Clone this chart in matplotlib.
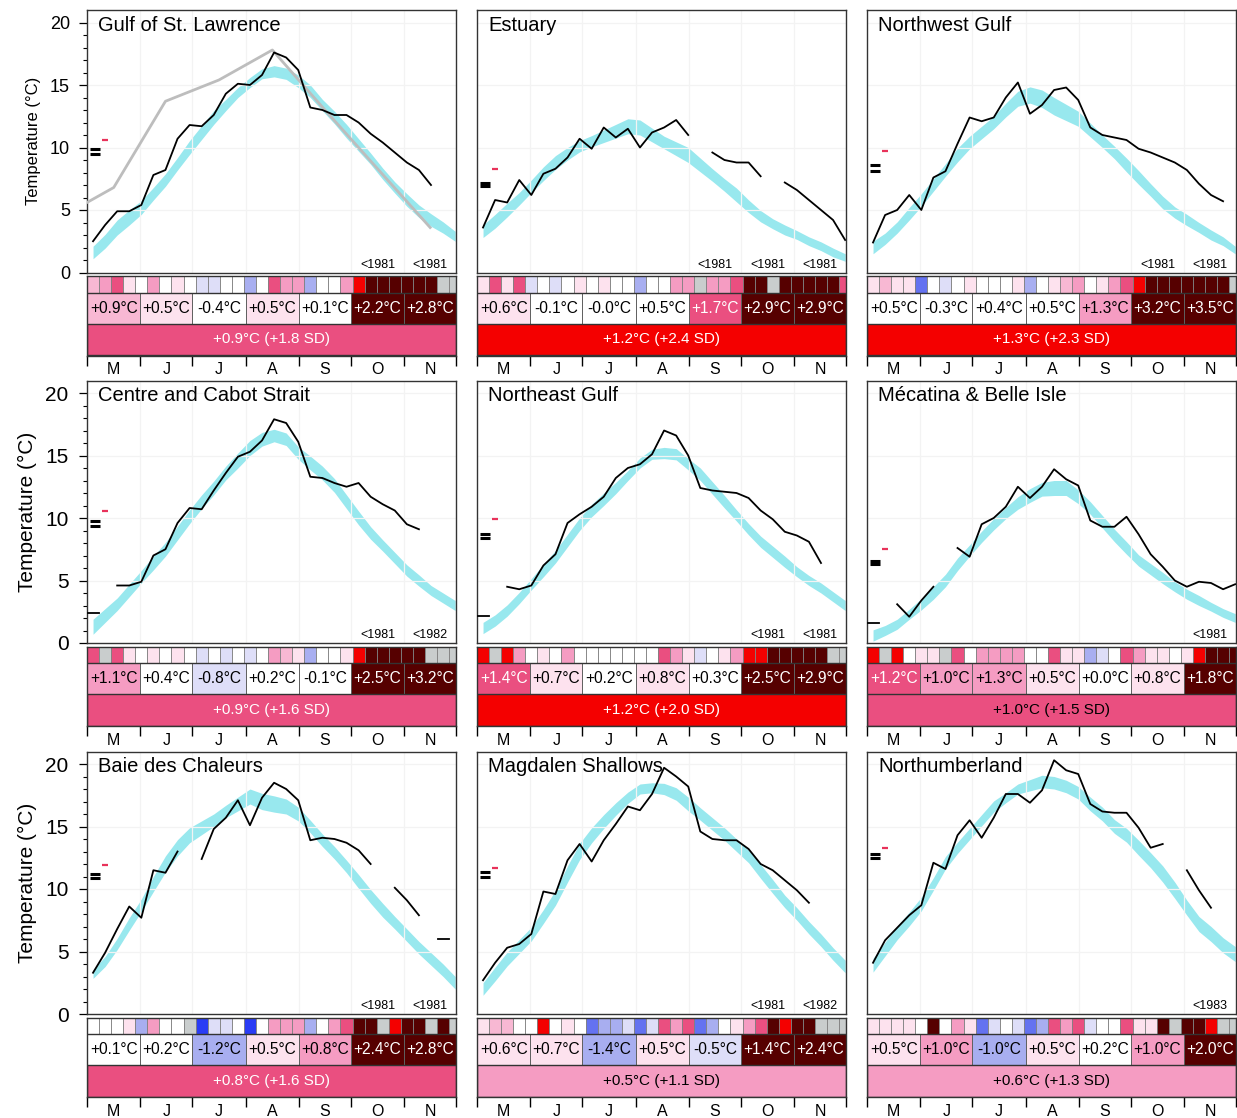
import numpy as np
import matplotlib
matplotlib.use("Agg")
import matplotlib.pyplot as plt
from matplotlib.patches import Rectangle

nan = np.nan

# ---- data (weekly values, May 1 -> Dec 1) ----
MONTHS = ["M", "J", "J", "A", "S", "O", "N"]
MONTH_EDGES = [0, 31, 61, 92, 123, 153, 184, 214]  # day of season

gulf_temp = [2.5, 3.8, 4.9, 4.9, 5.4, 7.8, 8.2, 10.7, 11.8, 11.7, 12.6, 14.3, 15.1, 15.0, 15.8, 17.6,
             17.2, 16.2, 13.2, 13.0, 12.6, 12.6, 12.0, 11.1, 10.4, 9.6, 8.8, 8.2, 7.0, nan, nan]
gulf_clim = [1.6, 2.5, 3.6, 4.4, 5.2, 6.3, 7.4, 8.7, 10.0, 11.2, 12.4, 13.4, 14.4, 15.2, 15.9, 16.1,
             15.9, 15.3, 14.5, 13.4, 12.4, 11.3, 10.2, 9.1, 7.9, 6.8, 5.8, 4.9, 4.2, 3.6, 2.9]
gulf_half = [0.5, 0.55, 0.6, 0.6, 0.55, 0.5, 0.5, 0.5, 0.55, 0.55, 0.55, 0.45, 0.4, 0.4, 0.4, 0.45,
             0.45, 0.5, 0.5, 0.45, 0.5, 0.55, 0.5, 0.45, 0.45, 0.45, 0.5, 0.5, 0.5, 0.45, 0.4]
gulf_tiles = [2, 3, 4, 1, 0, 3, 0, 1, 0, -1, -1, 0, 0, -2, 0, 4, 3, 3, -2, 0, 0, 3, 5, 6, 6, 6, 6, 6, 6, None, None]
gulf_month = [0.9, 0.5, -0.4, 0.5, 0.1, 2.2, 2.8]
gulf_month_lvl = [2, 1, 0, 1, 0, 6, 6]
gulf_season = (0.9, 1.8)
gulf_marks = (9.9, 9.5, 10.6)
gulf_records = [None, None, None, None, None, "<1981", "<1981"]
# monthly reference curve drawn in grey on the first panel
gulf_ref_day = [-15.5, 15.5, 45.5, 76.5, 107.5, 138, 168.5, 199]
gulf_ref_temp = [4.4, 6.8, 13.7, 15.4, 17.8, 13.0, 8.3, 3.6]

est_temp = [3.6, 5.8, 5.6, 7.4, 6.2, 7.9, 8.3, 9.2, 10.7, 9.9, 11.6, 10.8, 11.5, 10.0, 11.2, 11.6,
            12.2, 11.0, nan, 9.6, 9.0, 8.8, 8.8, 7.7, nan, 7.2, 6.6, 5.8, 5.0, 4.2, 2.6]
est_clim = [3.3, 4.1, 5.0, 5.9, 6.9, 7.9, 8.8, 9.5, 10.1, 10.5, 10.9, 11.3, 11.7, 11.6, 11.0, 10.4,
            9.9, 9.4, 8.6, 7.8, 7.0, 6.2, 5.3, 4.5, 3.9, 3.4, 3.0, 2.5, 2.1, 1.6, 1.2]
est_half = [0.5, 0.55, 0.55, 0.5, 0.5, 0.55, 0.55, 0.5, 0.45, 0.45, 0.5, 0.55, 0.6, 0.6, 0.55, 0.5,
            0.55, 0.6, 0.55, 0.5, 0.5, 0.55, 0.5, 0.45, 0.4, 0.4, 0.35, 0.35, 0.35, 0.35, 0.3]
est_tiles = [1, 4, 1, 4, -1, 0, -1, 0, 1, 0, 1, 0, 0, -2, 0, 0, 3, 3, None, 3, 3, 4, 6, 6, None, 6, 6, 6, 6, 6, 4]
est_month = [0.6, -0.1, -0.0, 0.5, 1.7, 2.9, 2.9]
est_month_lvl = [1, 0, 0, 0, 4, 6, 6]
est_season = (1.2, 2.4)
est_marks = (7.2, 6.9, 8.3)
est_records = [None, None, None, None, "<1981", "<1981", "<1981"]

nw_temp = [2.4, 4.6, 5.0, 6.2, 5.0, 7.6, 8.1, 10.3, 12.4, 12.1, 12.4, 14.0, 15.2, 12.7, 13.4, 14.6,
           14.8, 13.8, 11.6, 11.0, 10.8, 10.6, 9.9, 9.6, 9.2, 8.8, 8.2, 7.1, 6.2, 5.7, nan]
nw_clim = [2.0, 2.7, 3.6, 4.7, 5.8, 7.0, 8.2, 9.4, 10.4, 11.2, 12.0, 13.0, 13.9, 14.2, 13.9, 13.3,
           12.8, 12.3, 11.4, 10.5, 9.6, 8.6, 7.6, 6.6, 5.6, 4.8, 4.2, 3.6, 3.0, 2.5, 1.8]
nw_half = [0.5, 0.45, 0.45, 0.5, 0.5, 0.5, 0.5, 0.55, 0.5, 0.5, 0.5, 0.55, 0.6, 0.65, 0.7, 0.7,
           0.65, 0.6, 0.55, 0.5, 0.5, 0.55, 0.55, 0.5, 0.5, 0.45, 0.45, 0.4, 0.4, 0.35, 0.3]
nw_tiles = [1, 2, 1, 1, -3, 0, -1, 0, 1, 0, 0, 0, 1, -2, 0, 1, 2, 3, 0, 1, 3, 4, 5, 6, 6, 6, 6, 6, 6, 6, None]
nw_month = [0.5, -0.3, 0.4, 0.5, 1.3, 3.2, 3.5]
nw_month_lvl = [0, 0, 0, 0, 3, 6, 6]
nw_season = (1.3, 2.3)
nw_marks = (8.6, 8.1, 9.7)
nw_records = [None, None, None, None, None, "<1981", "<1981"]

cen_temp = [2.4, nan, 4.6, 4.6, 4.9, 7.0, 7.5, 9.6, 10.8, 10.7, 12.2, 13.6, 14.9, 15.3, 16.2, 17.9,
            17.6, 16.1, 13.3, 13.2, 12.8, 12.5, 12.8, 11.7, 11.1, 10.6, 9.5, 9.1, nan, nan, nan]
cen_clim = [1.3, 2.2, 3.1, 4.2, 5.3, 6.4, 7.5, 8.8, 10.1, 11.3, 12.4, 13.6, 14.6, 15.6, 16.3, 16.6,
            16.3, 15.2, 14.4, 13.6, 12.6, 11.3, 10.0, 8.8, 7.8, 6.8, 5.8, 5.0, 4.2, 3.6, 3.0]
cen_half = [0.6, 0.55, 0.5, 0.5, 0.5, 0.55, 0.55, 0.55, 0.55, 0.55, 0.55, 0.55, 0.6, 0.6, 0.55, 0.5,
            0.5, 0.5, 0.55, 0.55, 0.55, 0.55, 0.55, 0.5, 0.45, 0.45, 0.45, 0.45, 0.4, 0.4, 0.4]
cen_tiles = [4, None, 4, 1, 0, 1, 0, 1, 0, -1, 0, -1, 0, -1, 0, 3, 2, 1, -2, 0, 0, 1, 5, 6, 6, 6, 6, 6, None, None, None]
cen_month = [1.1, 0.4, -0.8, 0.2, -0.1, 2.5, 3.2]
cen_month_lvl = [3, 0, -1, 0, 0, 6, 6]
cen_season = (0.9, 1.6)
cen_marks = (9.8, 9.4, 10.6)
cen_records = [None, None, None, None, None, "<1981", "<1982"]

ne_temp = [2.2, nan, 4.5, 4.3, 4.6, 6.2, 7.1, 9.6, 10.3, 10.9, 11.7, 13.2, 14.0, 14.3, 15.1, 17.0,
           16.6, 15.0, 12.4, 12.2, 12.1, 12.0, 11.6, 10.6, 9.9, 8.9, 8.6, 8.1, 6.4, nan, nan]
ne_clim = [1.2, 1.8, 2.6, 3.6, 4.7, 5.8, 6.9, 8.2, 9.5, 10.6, 11.5, 12.4, 13.4, 14.4, 15.1, 15.2,
           15.1, 14.3, 13.5, 12.4, 11.3, 10.2, 9.1, 8.1, 7.3, 6.5, 5.7, 5.0, 4.4, 3.7, 3.0]
ne_half = [0.45, 0.45, 0.45, 0.45, 0.45, 0.5, 0.5, 0.5, 0.5, 0.5, 0.5, 0.45, 0.4, 0.4, 0.4, 0.45,
           0.45, 0.45, 0.5, 0.5, 0.5, 0.45, 0.45, 0.45, 0.45, 0.45, 0.4, 0.4, 0.4, 0.4, 0.4]
ne_tiles = [5, None, 5, 3, 0, 1, 0, 3, 0, 0, 0, 0, 0, 0, 0, 4, 3, 1, -1, 0, 1, 3, 5, 5, 6, 6, 6, 6, 6, None, None]
ne_month = [1.4, 0.7, 0.2, 0.8, 0.3, 2.5, 2.9]
ne_month_lvl = [4, 1, 0, 1, 0, 6, 6]
ne_season = (1.2, 2.0)
ne_marks = (8.7, 8.4, 9.9)
ne_records = [None, None, None, None, None, "<1981", "<1981"]

mec_temp = [1.6, nan, 3.1, 2.1, 3.4, 4.5, nan, 7.6, 6.9, 9.5, 10.0, 10.9, 12.5, 11.6, 12.5, 13.9,
            13.1, 12.6, 9.8, 9.3, 9.3, 10.1, 8.7, 7.1, 6.1, 5.0, 4.5, 4.9, 4.8, 4.3, 4.7]
mec_clim = [0.6, 1.0, 1.5, 2.3, 3.1, 4.0, 5.0, 6.3, 7.4, 8.5, 9.5, 10.4, 11.2, 11.8, 12.3, 12.4,
            12.4, 11.7, 10.8, 9.7, 8.6, 7.6, 6.6, 5.9, 5.2, 4.5, 3.9, 3.4, 2.9, 2.4, 2.0]
mec_half = [0.45, 0.4, 0.4, 0.4, 0.45, 0.5, 0.5, 0.5, 0.45, 0.45, 0.45, 0.45, 0.5, 0.55, 0.55, 0.6,
            0.6, 0.55, 0.5, 0.5, 0.5, 0.5, 0.45, 0.45, 0.45, 0.4, 0.4, 0.4, 0.35, 0.35, 0.35]
mec_tiles = [5, None, 5, 0, 1, 1, None, 4, 0, 3, 3, 3, 3, 0, 0, 4, 1, 1, -2, -1, 0, 4, 3, 1, 1, 0, 1, 5, 6, 6, 6]
mec_month = [1.2, 1.0, 1.3, 0.5, 0.0, 0.8, 1.8]
mec_month_lvl = [4, 3, 3, 1, 0, 1, 6]
mec_season = (1.0, 1.5)
mec_marks = (6.6, 6.3, 7.5)
mec_records = [None, None, None, None, None, None, "<1981"]

baie_temp = [3.3, 4.9, 6.8, 8.6, 7.7, 11.5, 11.3, 13.0, nan, 12.4, 14.8, 15.7, 17.1, 15.1, 17.3, 18.5,
             18.0, 17.1, 13.9, 14.1, 14.0, 13.7, 13.1, 12.0, nan, 10.1, 9.1, 7.9, nan, 6.0, nan]
baie_clim = [3.2, 4.2, 5.6, 7.2, 8.7, 10.4, 12.0, 13.3, 14.3, 14.9, 15.5, 16.2, 16.8, 17.4, 17.0, 16.8,
             16.6, 16.0, 15.0, 13.9, 12.9, 11.8, 10.6, 9.4, 8.3, 7.3, 6.3, 5.3, 4.4, 3.5, 2.5]
baie_half = [0.35, 0.4, 0.45, 0.5, 0.5, 0.6, 0.65, 0.65, 0.6, 0.55, 0.5, 0.5, 0.55, 0.6, 0.65, 0.65,
             0.6, 0.55, 0.5, 0.5, 0.5, 0.5, 0.55, 0.55, 0.55, 0.5, 0.5, 0.5, 0.5, 0.5, 0.5]
baie_tiles = [0, 0, 0, 1, -2, 3, 0, 0, None, -4, -1, -1, 0, -4, 0, 3, 3, 3, -2, 0, 3, 4, 6, 6, None, 5, 6, 6, None, 6, None]
baie_month = [0.1, 0.2, -1.2, 0.5, 0.8, 2.4, 2.8]
baie_month_lvl = [0, 0, -2, 1, 3, 6, 6]
baie_season = (0.8, 1.6)
baie_marks = (11.2, 10.9, 11.9)
baie_records = [None, None, None, None, None, "<1981", "<1981"]

mag_temp = [2.7, 4.1, 5.3, 5.6, 6.4, 9.8, 9.6, 12.3, 13.6, 12.2, 13.9, 15.2, 16.6, 16.3, 17.6, 19.7,
            19.0, 18.2, 14.6, 14.0, 13.9, 13.9, 13.2, 12.0, 11.5, 10.7, 9.9, 8.9, nan, nan, nan]
mag_clim = [2.0, 3.2, 4.4, 5.4, 6.4, 7.8, 9.3, 11.2, 13.0, 14.3, 15.4, 16.4, 17.3, 18.0, 18.1, 18.0,
            17.6, 16.8, 16.0, 15.2, 14.4, 13.5, 12.6, 11.4, 10.2, 9.0, 8.0, 6.9, 5.9, 4.8, 3.8]
mag_half = [0.5, 0.55, 0.55, 0.55, 0.55, 0.55, 0.6, 0.65, 0.65, 0.6, 0.55, 0.5, 0.45, 0.4, 0.4, 0.45,
            0.5, 0.55, 0.5, 0.5, 0.5, 0.5, 0.5, 0.55, 0.55, 0.5, 0.5, 0.5, 0.5, 0.5, 0.5]
mag_tiles = [1, 2, 2, 0, 0, 5, 0, 1, 0, -3, -2, -2, -1, -3, -1, 4, 3, 4, -3, -2, 0, 1, 3, 4, 6, 5, 6, 6, None, None, None]
mag_month = [0.6, 0.7, -1.4, 0.5, -0.5, 1.4, 2.4]
mag_month_lvl = [1, 1, -2, 1, -1, 6, 6]
mag_season = (0.5, 1.1)
mag_marks = (11.4, 11.0, 11.7)
mag_records = [None, None, None, None, None, "<1981", "<1982"]

nhb_temp = [4.1, 5.9, 6.9, 7.9, 8.7, 12.1, 11.6, 14.3, 15.5, 14.1, 15.7, 17.6, 17.6, 16.9, 17.9, 20.3,
            19.5, 19.2, 16.8, 16.2, 16.1, 16.1, 14.9, 13.3, 13.6, nan, 11.5, 9.9, 8.5, nan, nan]
nhb_clim = [3.9, 5.2, 6.5, 7.6, 8.8, 10.4, 12.1, 13.3, 14.4, 15.5, 16.6, 17.3, 18.0, 18.3, 18.6, 18.5,
            18.2, 17.7, 16.8, 16.0, 15.0, 14.3, 13.3, 12.3, 11.2, 9.9, 8.5, 7.2, 6.4, 5.5, 4.8]
nhb_half = [0.55, 0.55, 0.55, 0.55, 0.55, 0.5, 0.5, 0.45, 0.45, 0.45, 0.45, 0.4, 0.4, 0.45, 0.5, 0.5,
            0.5, 0.5, 0.55, 0.55, 0.55, 0.55, 0.6, 0.6, 0.65, 0.65, 0.6, 0.6, 0.6, 0.6, 0.6]
nhb_tiles = [1, 1, 1, 1, 0, 6, 0, 3, 1, -3, -1, 0, -1, -3, -2, 4, 3, 4, -1, 0, 0, 4, 1, 1, 6, None, 6, 6, 5, None, None]
nhb_month = [0.5, 1.0, -1.0, 0.5, 0.2, 1.0, 2.0]
nhb_month_lvl = [1, 3, -2, 1, 0, 3, 6]
nhb_season = (0.6, 1.3)
nhb_marks = (12.8, 12.5, 13.3)
nhb_records = [None, None, None, None, None, None, "<1983"]

# ---- styling ----
PALETTE = {-4: "#2a3cf5", -3: "#6472f0", -2: "#a8aef0", -1: "#dedef8", 0: "#ffffff",
           1: "#fde2ee", 2: "#f8b8d3", 3: "#f59cc2", 4: "#ea4f80", 5: "#f40000", 6: "#560000"}
MISSING = "#c9cdcd"
BAND = "#98e8ee"
GRID = "#f3f3f3"

W, H = 1237, 1118
COL_LEFT = [87, 477, 867]
AX_W = 369
ROW_TOP = [10, 380.5, 751.5]
MAIN_H = 262.5
GAP = 3.5
TILE_H, MONTH_H, SEASON_H = 16.5, 31, 32
STRIP_H = TILE_H + MONTH_H + SEASON_H

plt.rcParams["font.family"] = ["Liberation Sans", "DejaVu Sans"]


def sd_level(sd):
    idx = int(np.digitize(sd, [-2.0, -1.5, -1.0, -0.5, 0.5, 1.0, 1.5, 2.0, 3.0]))
    return [-4, -3, -2, -1, 0, 1, 3, 4, 5, 6][idx]


def draw_panel(fig, row, col, name, temp, clim, half, tiles, month, month_lvl,
               season, marks, records):
    left = COL_LEFT[col] / W
    top = ROW_TOP[row]
    ax = fig.add_axes([left, 1 - (top + MAIN_H) / H, AX_W / W, MAIN_H / H])
    days = np.arange(31) * 7 + 3.5
    temp = np.array(temp, dtype=float)
    mid = np.array(clim)
    hw = np.array(half)

    ax.fill_between(days, mid - hw, mid + hw, color=BAND, lw=0, zorder=1)
    for d in MONTH_EDGES[1:-1]:
        ax.axvline(d, color=GRID, lw=0.9, zorder=2)
    for v in (5, 10, 15, 20):
        ax.axhline(v, color=GRID, lw=0.9, zorder=2)

    ax.plot(days, temp, color="black", lw=1.3, zorder=4)
    # weeks with no neighbours show up as short dashes
    for k in range(31):
        if np.isnan(temp[k]):
            continue
        prev_ok = k > 0 and not np.isnan(temp[k - 1])
        next_ok = k < 30 and not np.isnan(temp[k + 1])
        if not prev_ok and not next_ok:
            ax.plot([7 * k + 0.3, 7 * k + 6.7], [temp[k], temp[k]], color="black", lw=1.3, zorder=4)

    if name == "Gulf of St. Lawrence":
        ax.plot(gulf_ref_day, gulf_ref_temp, color="#bdbdbd", lw=2, zorder=3)

    b1, b2, red = marks
    ax.plot([1.7, 7.5], [b1, b1], color="black", lw=2.2, solid_capstyle="butt", zorder=5)
    ax.plot([1.7, 7.5], [b2, b2], color="black", lw=2.2, solid_capstyle="butt", zorder=5)
    ax.plot([8.7, 12.1], [red, red], color="#e8325a", lw=1.6, solid_capstyle="butt", zorder=5)

    for m, lab in enumerate(records):
        if lab:
            ax.text((MONTH_EDGES[m] + MONTH_EDGES[m + 1]) / 2, 0.15, lab, ha="center",
                    va="bottom", fontsize=9)

    ax.text(0.03, 0.978, name, transform=ax.transAxes, ha="left", va="top", fontsize=14.5)
    ax.set_xlim(0, 214)
    ax.set_ylim(0, 21)
    ax.set_xticks([])
    for s in ax.spines.values():
        s.set_color("#333333")
        s.set_linewidth(1.0)

    if col == 0:
        big = row > 0
        ax.set_yticks([0, 5, 10, 15, 20])
        ax.set_yticks(np.arange(0, 21, 1), minor=True)
        ax.tick_params(axis="y", which="major", direction="out", length=5.8, width=0.9,
                       pad=7.5 if big else 6.5, labelsize=15 if big else 13)
        ax.tick_params(axis="y", which="minor", direction="out", length=3.2, width=0.8)
        ax.set_ylabel("Temperature (°C)", fontsize=15 if big else 12, labelpad=6)
    else:
        ax.set_yticks([])

    # strip with weekly tiles, monthly and seasonal anomalies
    sax = fig.add_axes([left, 1 - (top + MAIN_H + GAP + STRIP_H) / H, AX_W / W, STRIP_H / H])
    sax.set_xlim(0, 214)
    sax.set_ylim(STRIP_H, 0)
    for k, lvl in enumerate(tiles):
        x0 = 7 * k
        x1 = min(7 * k + 7, 214)
        fc = MISSING if lvl is None else PALETTE[lvl]
        sax.add_patch(Rectangle((x0, 0), x1 - x0, TILE_H, facecolor=fc,
                                edgecolor="#808080", lw=0.6))
    for m in range(7):
        x0, x1 = MONTH_EDGES[m], MONTH_EDGES[m + 1]
        lvl = month_lvl[m]
        sax.add_patch(Rectangle((x0, TILE_H), x1 - x0, MONTH_H, facecolor=PALETTE[lvl],
                                edgecolor="#606060", lw=0.7))
        sax.text((x0 + x1) / 2, TILE_H + MONTH_H / 2, f"{month[m]:+.1f}°C", ha="center",
                 va="center", fontsize=11.2, color="white" if lvl >= 4 else "black")
    anom, sd = season
    sax.add_patch(Rectangle((0, TILE_H + MONTH_H), 214, SEASON_H, facecolor=PALETTE[sd_level(sd)],
                            edgecolor="#333333", lw=1.0))
    sax.text(107, TILE_H + MONTH_H + SEASON_H / 2, f"{anom:+.1f}°C ({sd:+.1f} SD)", ha="center",
             va="center", fontsize=11, color="white" if sd >= 1.55 else "black")
    sax.axhline(TILE_H, color="#333333", lw=1.0)
    for s in sax.spines.values():
        s.set_color("#333333")
        s.set_linewidth(1.0)
    sax.set_yticks([])
    sax.set_xticks(MONTH_EDGES)
    sax.set_xticklabels([])
    sax.set_xticks([(MONTH_EDGES[i] + MONTH_EDGES[i + 1]) / 2 for i in range(7)], minor=True)
    sax.set_xticklabels(MONTHS, minor=True, fontsize=11.5)
    sax.tick_params(axis="x", which="major", direction="out", length=7, width=1.0)
    sax.tick_params(axis="x", which="minor", length=0, pad=5)


def main():
    fig = plt.figure(figsize=(W / 100, H / 100), dpi=100)
    panels = [
        ("Gulf of St. Lawrence", gulf_temp, gulf_clim, gulf_half, gulf_tiles, gulf_month,
         gulf_month_lvl, gulf_season, gulf_marks, gulf_records),
        ("Estuary", est_temp, est_clim, est_half, est_tiles, est_month, est_month_lvl,
         est_season, est_marks, est_records),
        ("Northwest Gulf", nw_temp, nw_clim, nw_half, nw_tiles, nw_month, nw_month_lvl,
         nw_season, nw_marks, nw_records),
        ("Centre and Cabot Strait", cen_temp, cen_clim, cen_half, cen_tiles, cen_month,
         cen_month_lvl, cen_season, cen_marks, cen_records),
        ("Northeast Gulf", ne_temp, ne_clim, ne_half, ne_tiles, ne_month, ne_month_lvl,
         ne_season, ne_marks, ne_records),
        ("Mécatina & Belle Isle", mec_temp, mec_clim, mec_half, mec_tiles, mec_month,
         mec_month_lvl, mec_season, mec_marks, mec_records),
        ("Baie des Chaleurs", baie_temp, baie_clim, baie_half, baie_tiles, baie_month,
         baie_month_lvl, baie_season, baie_marks, baie_records),
        ("Magdalen Shallows", mag_temp, mag_clim, mag_half, mag_tiles, mag_month,
         mag_month_lvl, mag_season, mag_marks, mag_records),
        ("Northumberland", nhb_temp, nhb_clim, nhb_half, nhb_tiles, nhb_month,
         nhb_month_lvl, nhb_season, nhb_marks, nhb_records),
    ]
    for i, p in enumerate(panels):
        draw_panel(fig, i // 3, i % 3, *p)
    fig.savefig("out.png", dpi=100)


if __name__ == "__main__":
    main()
